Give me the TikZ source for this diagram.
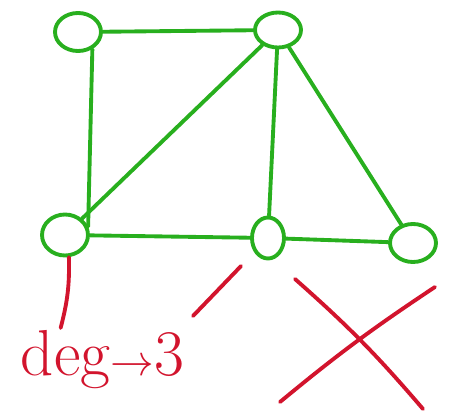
\documentclass[tikz,border=0pt]{standalone}
\usetikzlibrary{shapes.geometric,calc}
\definecolor{pen}{RGB}{40,175,30}
\definecolor{ruby}{RGB}{210,20,45}
\tikzset{
  vertex/.style={ellipse,draw=pen,line width=2.2pt,inner sep=0pt,
    minimum width=9.2mm,minimum height=7.6mm},
  link/.style={draw=pen,line width=2.2pt,line cap=round},
  note/.style={draw=ruby,line width=2.2pt,line cap=round},
}
\begin{document}
\begin{tikzpicture}
    \useasboundingbox (0,0) rectangle (9.08,8.22);
    % vertices
    \node[vertex] (tl) at (1.56,7.58) {};
    \node[vertex,minimum height=7mm] (tr) at (5.56,7.62) {};
    \node[vertex,minimum height=8.2mm] (ml) at (1.30,3.52) {};
    \node[vertex,minimum width=6.4mm,minimum height=8.2mm] (mid) at (5.36,3.46) {};
    \node[vertex] (rt) at (8.26,3.36) {};
    % edges
    \draw[link] (tl) -- (tr);
    \draw[link] (tl.-50) -- (ml.20);
    \draw[link] (tr) -- (ml);
    \draw[link] (tr) -- (mid);
    \draw[link] (tr) -- (rt);
    \draw[link] (ml) -- (mid);
    \draw[link] (mid) -- (rt);
    % degree note
    \node[text=ruby,font=\fontsize{37}{37}\selectfont,inner sep=0pt] (deg) at (2.05,1.02) {deg$\to$3};
    \coordinate (tip) at (3.86,1.90);
    \draw[note] (ml.-80) to[bend left=8] ($(deg.north west)+(0.8,0.05)$);
    \draw[note,shorten <=3.8mm] (mid) -- (tip);
    % cross
    \coordinate (x1) at (5.90,2.64);
    \coordinate (x2) at (8.46,0.04);
    \coordinate (x3) at (8.70,2.48);
    \coordinate (x4) at (5.60,0.18);
    \draw[note] (x1) to[bend left=4] (x2);
    \draw[note] (x3) to[bend right=3] (x4);
\end{tikzpicture}
\end{document}
